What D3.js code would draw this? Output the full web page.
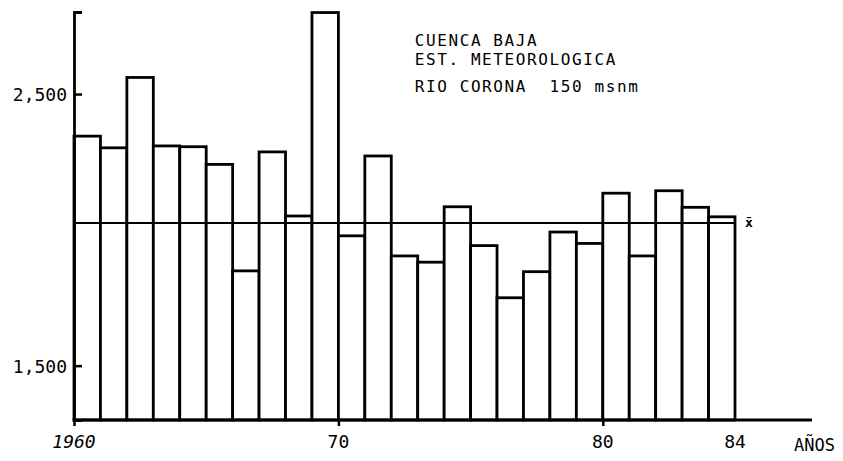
<!DOCTYPE html>
<html>
<head>
<meta charset="utf-8">
<script src="https://cdn.jsdelivr.net/npm/d3@7"></script>
<style>
  html, body { margin: 0; padding: 0; background: #fff; }
  svg { display: block; }
  text { font-family: "DejaVu Sans Mono", "Liberation Mono", monospace; fill: #000; }
</style>
</head>
<body>
<svg id="chart" width="843" height="461"></svg>
<script>
// ---- data ----
const years = [1960,1961,1962,1963,1964,1965,1966,1967,1968,1969,1970,1971,1972,
               1973,1974,1975,1976,1977,1978,1979,1980,1981,1982,1983,1984];
const rainfall = [2345,2302,2561,2309,2306,2241,1849,2287,2051,2800,1978,2272,1904,
                  1881,2085,1942,1750,1846,1992,1950,2135,1904,2144,2083,2048];
const meanValue = [2025];
const yTickValues = [1500, 2500];
const xTickYears = [1960, 1970, 1980, 1984];
const xTickLabels = ["1960", "70", "80", "84"];
const xAxisTitle = "AÑOS";
const titleLines = ["CUENCA BAJA", "EST. METEOROLOGICA", "RIO CORONA  150 msnm"];
const meanLabel = "x̄";

// ---- layout ----
const svg = d3.select("#chart");
const mLeft = 74, mBottom = 420, mTop = 12, barsRight = 735, axisRight = 812;

const x = d3.scaleBand().domain(years).range([mLeft, barsRight]).paddingInner(0).paddingOuter(0);
const y = d3.scaleLinear().domain([1300, 2802]).range([mBottom, mTop]);

// bars
svg.append("g").selectAll("rect").data(years).join("rect")
  .attr("x", d => x(d))
  .attr("y", (d, i) => y(rainfall[i]))
  .attr("width", x.bandwidth())
  .attr("height", (d, i) => y(1300) - y(rainfall[i]))
  .attr("fill", "#fff")
  .attr("stroke", "#000")
  .attr("stroke-width", 2.8);

// mean line
svg.append("line")
  .attr("x1", mLeft).attr("x2", barsRight)
  .attr("y1", y(meanValue[0])).attr("y2", y(meanValue[0]))
  .attr("stroke", "#000").attr("stroke-width", 2);
svg.append("text")
  .attr("x", barsRight + 10).attr("y", y(meanValue[0]) + 4)
  .attr("font-size", 13).attr("font-weight", "bold")
  .text(meanLabel);

// y axis
const yAxis = d3.axisLeft(y)
  .tickValues(yTickValues)
  .tickFormat(d3.format(","))
  .tickSizeInner(-8)
  .tickSizeOuter(-8)
  .tickPadding(7);
const gy = svg.append("g").attr("transform", `translate(${mLeft},0)`).call(yAxis);
gy.select(".domain").attr("stroke", "#000").attr("stroke-width", 2.8);
gy.selectAll(".tick line").attr("stroke", "#000").attr("stroke-width", 2.5);
gy.selectAll(".tick text")
  .attr("font-family", "DejaVu Sans Mono")
  .attr("font-size", 18)
  .attr("dy", "0.36em");

// x axis
const xLin = d3.scaleLinear().domain([years[0], years[years.length - 1] + 1]).range([mLeft, barsRight]);
const xAxis = d3.axisBottom(xLin)
  .tickValues(xTickYears.slice(0, 3))
  .tickFormat("")
  .tickSizeInner(6)
  .tickSizeOuter(0);
const gx = svg.append("g").attr("transform", `translate(0,${mBottom})`).call(xAxis);
gx.select(".domain").remove();
gx.selectAll(".tick line").attr("stroke", "#000").attr("stroke-width", 2.5);
gx.append("line")
  .attr("x1", mLeft - 1.4).attr("x2", axisRight)
  .attr("y1", 0).attr("y2", 0)
  .attr("stroke", "#000").attr("stroke-width", 2.8);

// x tick labels
const lastYear = years[years.length - 1];
svg.append("g").selectAll("text").data(xTickYears).join("text")
  .attr("x", d => d === lastYear ? x(d) + x.bandwidth() : x(d))
  .attr("y", mBottom + 28)
  .attr("text-anchor", "middle")
  .attr("font-size", 18)
  .attr("font-style", (d, i) => i === 0 ? "italic" : "normal")
  .text((d, i) => xTickLabels[i]);

svg.append("text")
  .attr("x", axisRight - 18).attr("y", mBottom + 31)
  .attr("text-anchor", "start")
  .attr("font-size", 17)
  .text(xAxisTitle);

// title block
const title = svg.append("text").attr("font-size", 16).attr("letter-spacing", 1.6);
const lineY = [46, 65, 92];
titleLines.forEach((t, i) => {
  title.append("tspan").attr("x", x(1973) - 3).attr("y", lineY[i]).attr("xml:space", "preserve").text(t);
});
</script>
</body>
</html>
